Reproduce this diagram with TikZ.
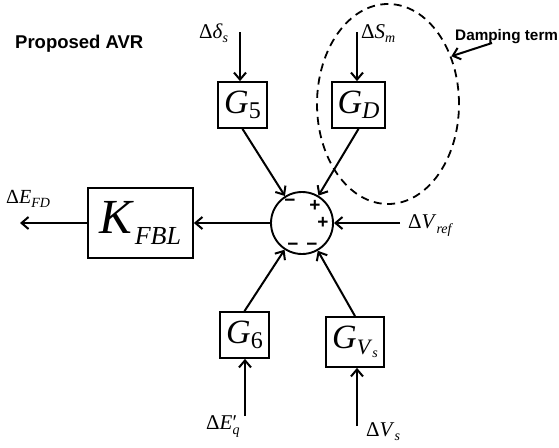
\documentclass[tikz,border=0pt]{standalone}
\usepackage{fontspec}
\setmainfont{Liberation Serif}
\setsansfont{Liberation Sans}
\usetikzlibrary{arrows.meta,shapes.geometric}
\newcommand\fs[1]{\fontsize{#1}{#1}\selectfont}
\newcommand\sbs[3]{\raisebox{-#2}{\fs{#1}#3}}
\begin{document}
\begin{tikzpicture}[x=1pt,y=-1pt,
  blk/.style={draw, line width=1.8pt, inner sep=0pt, rectangle},
  arr/.style={line width=2pt, -{Straight Barb[length=7pt,width=12pt]}},
  lab/.style={inner sep=0pt, anchor=base west, font=\fs{21}},
  sign/.style={inner sep=0pt, font=\sffamily\bfseries\fs{19}},
  title/.style={inner sep=0pt, anchor=base west, font=\sffamily\bfseries\fs{18.5}}]
\useasboundingbox (0,0) rectangle (559,447);
% blocks
\node[blk, minimum width=49pt, minimum height=46pt] (g5) at (242.5,105) {\fs{34}\textit{G}\sbs{24}{5pt}{5}};
\node[blk, minimum width=53pt, minimum height=46pt] (gd) at (358.5,105) {\fs{34}\textit{G}\sbs{24}{5pt}{\textit{D}}};
\node[blk, minimum width=49pt, minimum height=46pt] (g6) at (244.5,335) {\fs{34}\textit{G}\sbs{24}{5pt}{6}};
\node[blk, minimum width=58pt, minimum height=50pt] (gv) at (355,342) {\fs{34}\textit{G}\sbs{22}{6pt}{\textit{V}\sbs{14}{3pt}{\textit{s}}}};
\node[blk, minimum width=105pt, minimum height=70pt] (k) at (140.5,223) {\fs{49}\textit{K}\sbs{26}{11pt}{\textit{FBL}}};
\node[draw, circle, line width=1.9pt, minimum size=62pt, inner sep=0pt] (s) at (302,223) {};
% signs
\node[sign] (m1) at (290,203) {−};
\node[sign] (p1) at (315,206) {+};
\node[sign] (p2) at (323,223) {+};
\node[sign] (m2) at (293,247) {−};
\node[sign] (m3) at (312,247) {−};
% labels
\node[lab] (ld) at (199,38) {Δ\textit{δ}\sbs{14}{4pt}{\textit{s}}};
\node[lab] (ls) at (361,38) {Δ\textit{S}\sbs{14}{4pt}{\textit{m}}};
\node[lab] (lr) at (408,228) {Δ\textit{V}\sbs{14}{5pt}{\textit{ref}}};
\node[lab, font=\fs{20}] (le) at (6,203) {Δ\textit{E}\sbs{14}{4pt}{\textit{FD}}};
\node[lab] (lq) at (206,429) {Δ\textit{E}\rlap{′}\sbs{14}{5pt}{\textit{q}}};
\node[lab] (lv) at (366,436) {Δ\textit{V}\sbs{14}{4pt}{\textit{s}}};
\node[title] (t1) at (15,48) {Proposed AVR};
\node[title, font=\sffamily\bfseries\fs{15.3}] (t2) at (455,40) {Damping term};
% damping ellipse
\node[draw, ellipse, dash pattern=on 8pt off 5.5pt, line width=1.8pt, minimum width=142pt, minimum height=200pt, inner sep=0pt] (dz) at (388,104) {};
% coordinates
\coordinate (i5) at (240,32);
\coordinate (id) at (357,32);
\coordinate (i6) at (245,416);
\coordinate (iv) at (357,426);
\coordinate (ir) at (400,223);
\coordinate (out) at (20,223);
\coordinate (dt) at (492,43);
% connectors
\draw[arr] (i5) -- (g5.north -| i5);
\draw[arr] (id) -- (gd.north -| id);
\draw[arr] (i6) -- (g6.south -| i6);
\draw[arr] (iv) -- (gv.south -| iv);
\draw[arr] (g5.south) -- (s);
\draw[arr] (gd.south) -- (s);
\draw[arr] (g6.north) -- (s);
\draw[arr] (gv.north) -- (s);
\draw[arr] (ir) -- (s.east);
\draw[arr] (s.west) -- (k.east);
\draw[arr] (k.west) -- (out);
\draw[arr] (dt) -- (dz.37);
\end{tikzpicture}
\end{document}
